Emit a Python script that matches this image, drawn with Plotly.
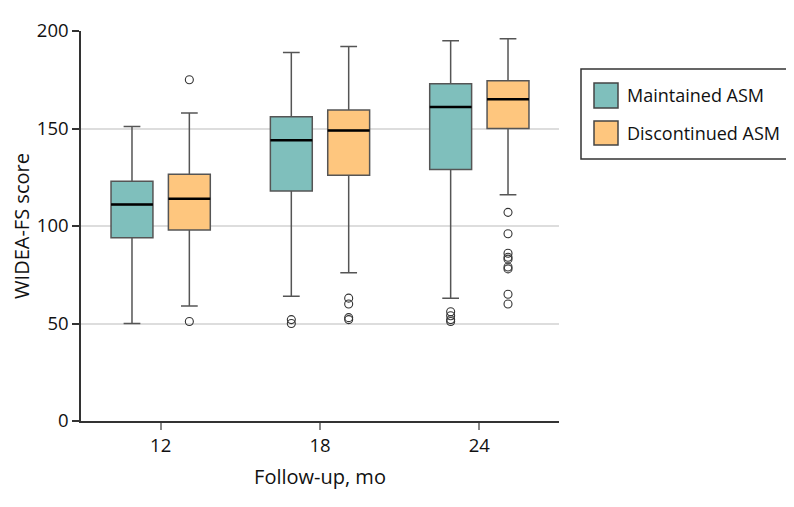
import plotly.graph_objects as go

# ---- data ----
followup = ["12", "18", "24"]
series_names = ["Maintained ASM", "Discontinued ASM"]

maint_lower = [50, 64, 63]
maint_q1 = [94, 118, 129]
maint_median = [111, 144, 161]
maint_q3 = [123, 156, 173]
maint_upper = [151, 189, 195]
maint_outliers = [[], [52, 50], [56, 54, 52, 51]]

disc_lower = [59, 76, 116]
disc_q1 = [98, 126, 150]
disc_median = [114, 149, 165]
disc_q3 = [126.5, 159.5, 174.5]
disc_upper = [158, 192, 196]
disc_outliers = [[175, 51], [63, 60, 53, 52], [107, 96, 86, 84, 83, 79, 78, 65, 60]]

yticks = [0, 50, 100, 150, 200]

# ---- style ----
FONT = "Open Sans"
colors = ["#7fbfbc", "#fec67e"]
offsets = [-0.18, 0.18]
box_w = 0.263

PAGE = 8  # default body margin of the html page
W, H = 794 - PAGE, 507 - PAGE
X0, X1, Y0, Y1 = 81, 559, 31, 421  # plot area in screen pixels
ML, MT = X0 - PAGE, Y0 - PAGE
MR = W + PAGE - X1
MB = H + PAGE - Y1
PW = X1 - X0
PH = Y1 - Y0


def px_x(p):
    return (p - X0) / PW


def px_y(p):
    return (Y1 - p) / PH


fig = go.Figure()

groups = [
    (maint_lower, maint_q1, maint_median, maint_q3, maint_upper, maint_outliers),
    (disc_lower, disc_q1, disc_median, disc_q3, disc_upper, disc_outliers),
]

for s, (lo, q1, med, q3, up, outs) in enumerate(groups):
    xs = [i + offsets[s] for i in range(len(followup))]
    fig.add_trace(go.Box(
        x=xs, q1=q1, median=med, q3=q3, lowerfence=lo, upperfence=up,
        width=box_w, whiskerwidth=0.4, boxpoints=False,
        fillcolor=colors[s], line=dict(color="#555555", width=1.5),
        name=series_names[s], showlegend=False, hoverinfo="skip",
    ))
    # median overlay (black, thicker)
    fig.add_trace(go.Box(
        x=xs, q1=med, median=med, q3=med, lowerfence=med, upperfence=med,
        width=box_w, whiskerwidth=0, boxpoints=False,
        fillcolor="rgba(0,0,0,0)", line=dict(color="black", width=2.5),
        showlegend=False, hoverinfo="skip",
    ))
    ox, oy = [], []
    for i, vals in enumerate(outs):
        for v in vals:
            ox.append(i + offsets[s])
            oy.append(v)
    fig.add_trace(go.Scatter(
        x=ox, y=oy, mode="markers",
        marker=dict(symbol="circle-open", size=8, color="#333333", line=dict(width=1.1)),
        showlegend=False, hoverinfo="skip",
    ))

# ---- legend drawn manually ----
fig.add_shape(type="rect", xref="paper", yref="paper",
              x0=px_x(581), x1=px_x(793), y0=px_y(159), y1=px_y(69),
              line=dict(color="#333333", width=1.5), fillcolor="white")
sw_y = [(83, 108), (121, 145)]
for s in range(2):
    fig.add_shape(type="rect", xref="paper", yref="paper",
                  x0=px_x(594), x1=px_x(618), y0=px_y(sw_y[s][1]), y1=px_y(sw_y[s][0]),
                  line=dict(color="#444444", width=1.5), fillcolor=colors[s])
    fig.add_annotation(xref="paper", yref="paper", x=px_x(625),
                       y=px_y((sw_y[s][0] + sw_y[s][1]) / 2),
                       text=series_names[s], showarrow=False, xanchor="left", yanchor="middle",
                       font=dict(family=FONT, size=18, color="#111111"))

fig.update_layout(
    width=W, height=H,
    margin=dict(l=ML, r=MR, t=MT, b=MB, pad=0),
    paper_bgcolor="white", plot_bgcolor="white",
    font=dict(family=FONT, color="#111111"),
    showlegend=False,
)
fig.update_xaxes(
    range=[-0.5, 2.5], tickvals=list(range(len(followup))), ticktext=followup,
    showgrid=False, zeroline=False, showline=True, linecolor="#333333", linewidth=1.5,
    ticks="outside", ticklen=7, tickcolor="#888888", tickwidth=1.5,
    tickfont=dict(family=FONT, size=18.5, color="#111111"),
    automargin=False,
    title=dict(text="Follow-up, mo", font=dict(family=FONT, size=20, color="#111111"), standoff=14),
)
fig.update_yaxes(
    range=[0, 200], tickvals=yticks,
    showgrid=True, gridcolor="#dddddd", gridwidth=1.5, zeroline=False,
    showline=True, linecolor="#333333", linewidth=1.5,
    ticks="outside", ticklen=7, tickcolor="#333333", tickwidth=1.5,
    tickfont=dict(family=FONT, size=18.5, color="#111111"),
    automargin=False,
    title=dict(text="WIDEA-FS score", font=dict(family=FONT, size=20, color="#111111"), standoff=18),
)

fig.write_html("out.html")
